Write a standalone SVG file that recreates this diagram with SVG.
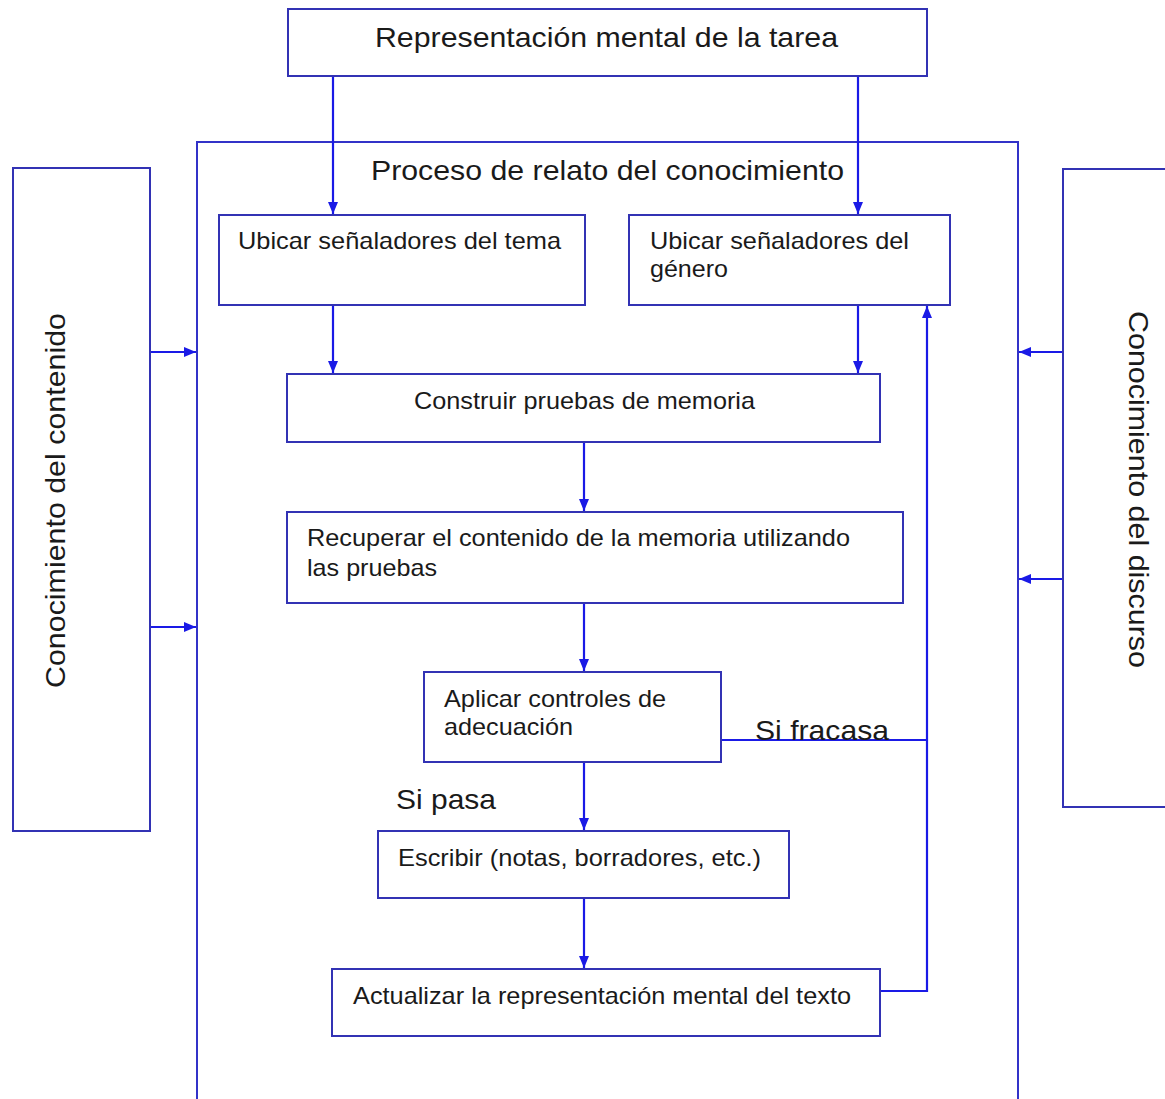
<svg xmlns="http://www.w3.org/2000/svg" width="1165" height="1099" viewBox="0 0 1165 1099">
<style>
.box{fill:#ffffff;stroke:#3232b4;stroke-width:2}
.big{fill:none;stroke:#3232c8;stroke-width:2}
.t{font-family:"Liberation Sans",Arial,sans-serif;font-size:24px;fill:#1a1a1a}
.tl{font-family:"Liberation Sans",Arial,sans-serif;font-size:28px;fill:#1a1a1a}
.c{fill:none;stroke:#1a1ae6;stroke-width:2.2}
</style>
<defs>
<marker id="ah" viewBox="0 0 12 10" refX="12" refY="5" markerWidth="12" markerHeight="10" markerUnits="userSpaceOnUse" orient="auto">
<path d="M0,0 L12,5 L0,10 Z" fill="#1a1ae6"/>
</marker>
</defs>
<rect width="1165" height="1099" fill="#ffffff"/>
<g id="proceso">
<rect class="big" x="197" y="142" width="821" height="960"/>
<text class="tl" x="371" y="180" textLength="473" lengthAdjust="spacingAndGlyphs">Proceso de relato del conocimiento</text>
</g>
<g id="tarea">
<rect class="box" x="288" y="9" width="639" height="67"/>
<text class="tl" x="375" y="47" textLength="463" lengthAdjust="spacingAndGlyphs">Representación mental de la tarea</text>
</g>
<g id="contenido">
<rect class="box" x="13" y="168" width="137" height="663"/>
<text class="tl" transform="translate(65,688) rotate(-90)" textLength="375" lengthAdjust="spacingAndGlyphs">Conocimiento del contenido</text>
</g>
<g id="discurso">
<rect class="box" x="1063" y="169" width="110" height="638"/>
<text class="tl" transform="translate(1129,311) rotate(90)" textLength="357" lengthAdjust="spacingAndGlyphs">Conocimiento del discurso</text>
</g>
<g id="tema">
<rect class="box" x="219" y="215" width="366" height="90"/>
<text class="t" x="238" y="249" textLength="323" lengthAdjust="spacingAndGlyphs">Ubicar señaladores del tema</text>
</g>
<g id="genero">
<rect class="box" x="629" y="215" width="321" height="90"/>
<text class="t" x="650" y="249" textLength="259" lengthAdjust="spacingAndGlyphs">Ubicar señaladores del</text>
<text class="t" x="650" y="277" textLength="78" lengthAdjust="spacingAndGlyphs">género</text>
</g>
<g id="construir">
<rect class="box" x="287" y="374" width="593" height="68"/>
<text class="t" x="414" y="409" textLength="341" lengthAdjust="spacingAndGlyphs">Construir pruebas de memoria</text>
</g>
<g id="recuperar">
<rect class="box" x="287" y="512" width="616" height="91"/>
<text class="t" x="307" y="546" textLength="543" lengthAdjust="spacingAndGlyphs">Recuperar el contenido de la memoria utilizando</text>
<text class="t" x="307" y="576" textLength="130" lengthAdjust="spacingAndGlyphs">las pruebas</text>
</g>
<g id="aplicar">
<rect class="box" x="424" y="672" width="297" height="90"/>
<text class="t" x="444" y="707" textLength="222" lengthAdjust="spacingAndGlyphs">Aplicar controles de</text>
<text class="t" x="444" y="735" textLength="129" lengthAdjust="spacingAndGlyphs">adecuación</text>
</g>
<g id="escribir">
<rect class="box" x="378" y="831" width="411" height="67"/>
<text class="t" x="398" y="866" textLength="363" lengthAdjust="spacingAndGlyphs">Escribir (notas, borradores, etc.)</text>
</g>
<g id="actualizar">
<rect class="box" x="332" y="969" width="548" height="67"/>
<text class="t" x="353" y="1004" textLength="498" lengthAdjust="spacingAndGlyphs">Actualizar la representación mental del texto</text>
</g>
<g id="connectors">
<line class="c" x1="333" y1="77" x2="333" y2="214" marker-end="url(#ah)"/>
<line class="c" x1="858" y1="77" x2="858" y2="214" marker-end="url(#ah)"/>
<line class="c" x1="333" y1="306" x2="333" y2="373" marker-end="url(#ah)"/>
<line class="c" x1="858" y1="306" x2="858" y2="373" marker-end="url(#ah)"/>
<line class="c" x1="584" y1="443" x2="584" y2="511" marker-end="url(#ah)"/>
<line class="c" x1="584" y1="604" x2="584" y2="671" marker-end="url(#ah)"/>
<line class="c" x1="584" y1="763" x2="584" y2="830" marker-end="url(#ah)"/>
<line class="c" x1="584" y1="899" x2="584" y2="968" marker-end="url(#ah)"/>
<polyline class="c" points="881,991 927,991 927,306" marker-end="url(#ah)"/>
<line class="c" x1="722" y1="740" x2="927" y2="740"/>
<line class="c" x1="151" y1="352" x2="196" y2="352" marker-end="url(#ah)"/>
<line class="c" x1="151" y1="627" x2="196" y2="627" marker-end="url(#ah)"/>
<line class="c" x1="1062" y1="352" x2="1019" y2="352" marker-end="url(#ah)"/>
<line class="c" x1="1062" y1="579" x2="1019" y2="579" marker-end="url(#ah)"/>
<text class="tl" x="755" y="740" textLength="134" lengthAdjust="spacingAndGlyphs">Si fracasa</text>
<text class="tl" x="396" y="809" textLength="100" lengthAdjust="spacingAndGlyphs">Si pasa</text>
</g>
</svg>
